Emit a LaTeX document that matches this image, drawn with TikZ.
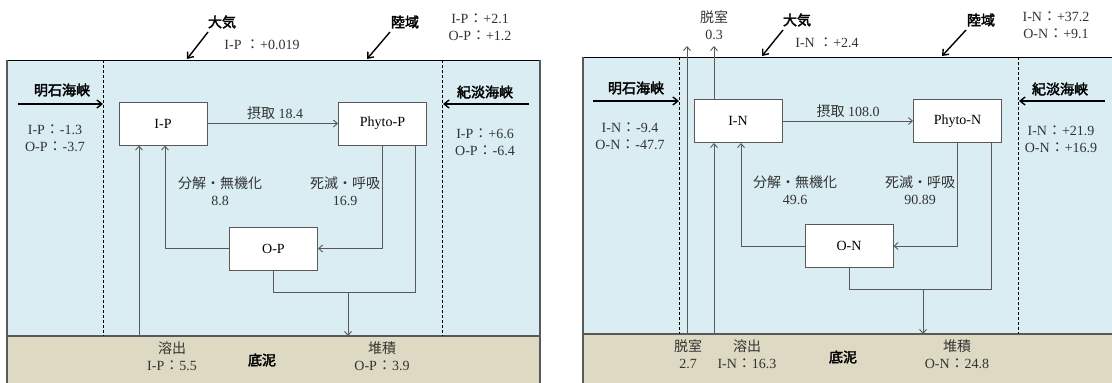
\documentclass[tikz,border=0pt]{standalone}
\usepackage{fontspec}
\setmainfont{Liberation Serif}
\newfontfamily\cjk{Noto Sans CJK JP}
\newfontfamily\cjkb{Noto Sans CJK JP}[FakeBold=2.5]
\usetikzlibrary{arrows.meta}
\definecolor{sea}{HTML}{DAEDF3}
\definecolor{mud}{HTML}{DDD9C3}
\definecolor{ln}{HTML}{595959}
\definecolor{tx}{HTML}{333333}
\newcommand\cl{\makebox[15pt]{\cjk ：}}
\begin{document}
\begin{tikzpicture}[x=1pt,y=-1pt,
  lat/.style={text=tx, font=\fontsize{14}{17}\selectfont, align=center, inner sep=0pt},
  jpb/.style={text=black, font=\cjkb\fontsize{14}{16}\selectfont, inner sep=0pt},
  box/.style={draw=ln, line width=1pt, fill=white, inner sep=0pt, minimum width=88pt, minimum height=43pt, font=\fontsize{14}{16}\selectfont},
  flow/.style={draw=ln, line width=0.9pt, -{Straight Barb[length=4pt,width=7pt]}},
  link/.style={draw=ln, line width=0.9pt},
  big/.style={draw=black, line width=1.4pt, -{Straight Barb[length=5pt,width=8pt]}},
  border/.style={draw=ln, line width=1.2pt},
  sep/.style={draw=black, line width=0.8pt, dash pattern=on 3pt off 2pt},
]
\useasboundingbox (0,0) rectangle (1112,383);

% ---------- left panel background ----------
\fill[sea] (7,60) rectangle (540,336);
\fill[mud] (7,336) rectangle (540,383);
\draw[black, line width=1pt] (7,60) -- (540,60);
\draw[border] (7,60) -- (7,383);
\draw[border] (540,60) -- (540,383);
\draw[border] (7,336) -- (540,336);
\draw[sep] (103,60) -- (103,336);
\draw[sep] (442,60) -- (442,336);

% ---------- right panel background ----------
\fill[sea] (583,57) rectangle (1112,334);
\fill[mud] (583,334) rectangle (1112,383);
\draw[black, line width=1pt] (583,57) -- (1112,57);
\draw[border] (583,57) -- (583,383);
\draw[border] (583,334) -- (1112,334);
\draw[sep] (679,57) -- (679,334);
\draw[sep] (1018,57) -- (1018,334);

% ---------- left boxes ----------
\node[box] (IP) at (163,123.5) {I-P};
\node[box] (PhP) at (382.5,123.5) {Phyto-P};
\node[box] (OP) at (273.5,248.5) {O-P};

\coordinate (s1) at (139,336);
\coordinate (c1) at (165,0);
\coordinate (p2) at (415,0);
\coordinate (m1) at (348,292);
\coordinate (sd1) at (348,336);

\draw[flow] (IP.east) -- (PhP.west);
\draw[flow] (s1) -- (s1 |- IP.south);
\draw[flow] (OP.west) -| (c1 |- IP.south);
\draw[flow] (PhP.south) |- (OP.east);
\draw[link] (OP.south) -- (OP.south |- m1) -- (p2 |- m1) -- (p2 |- PhP.south);
\draw[flow] (m1) -- (sd1);

% big arrows left
\coordinate (la1) at (18,104); \coordinate (la2) at (103,104);
\coordinate (lb1) at (529,104); \coordinate (lb2) at (443,104);
\coordinate (lc1) at (208,32); \coordinate (lc2) at (187,59);
\coordinate (ld1) at (390,32); \coordinate (ld2) at (367,59);
\draw[big] (la1) -- (la2);
\draw[big] (lb1) -- (lb2);
\draw[big] (lc1) -- (lc2);
\draw[big] (ld1) -- (ld2);

% left texts
\node[jpb] (t1) at (222,22) {大気};
\node[lat] (t2) at (262,45) {I-P \cl+0.019};
\node[jpb] (t3) at (405,22) {陸域};
\node[lat] (t4) at (480,27) {I-P\cl+2.1\\O-P\cl+1.2};
\node[jpb] (t5) at (62,90) {明石海峡};
\node[lat] (t6) at (55,138) {I-P\cl-1.3\\O-P\cl-3.7};
\node[jpb] (t7) at (485,92) {紀淡海峡};
\node[lat] (t8) at (485,142) {I-P\cl+6.6\\O-P\cl-6.4};
\node[lat] (t9) at (275,113) {{\cjk 摂取} 18.4};
\node[lat] (t10) at (220,191) {{\cjk 分解・無機化}\\8.8};
\node[lat] (t11) at (345,191) {{\cjk 死滅・呼吸}\\16.9};
\node[lat] (t12) at (172,356) {{\cjk 溶出}\\I-P\cl5.5};
\node[jpb] (t13) at (262,360) {底泥};
\node[lat] (t14) at (382,356) {{\cjk 堆積}\\O-P\cl3.9};

% ---------- right boxes ----------
\node[box] (IN) at (738,121) {I-N};
\node[box] (PhN) at (957.5,121) {Phyto-N};
\node[box] (ON) at (849,246) {O-N};

\coordinate (s2) at (714,334);
\coordinate (d1) at (714,46);
\coordinate (d2) at (687,334);
\coordinate (d3) at (687,46);
\coordinate (c2) at (741,0);
\coordinate (p4) at (991,0);
\coordinate (m2) at (923,289);
\coordinate (sd2) at (923,334);

\draw[flow] (IN.east) -- (PhN.west);
\draw[flow] (s2) -- (s2 |- IN.south);
\draw[flow] (d1 |- IN.north) -- (d1);
\draw[flow] (d2) -- (d3);
\draw[flow] (ON.west) -| (c2 |- IN.south);
\draw[flow] (PhN.south) |- (ON.east);
\draw[link] (ON.south) -- (ON.south |- m2) -- (p4 |- m2) -- (p4 |- PhN.south);
\draw[flow] (m2) -- (sd2);

% big arrows right
\coordinate (ra1) at (593,101); \coordinate (ra2) at (679,101);
\coordinate (rb1) at (1105,101); \coordinate (rb2) at (1019,101);
\coordinate (rc1) at (783,30); \coordinate (rc2) at (762,56);
\coordinate (rd1) at (966,30); \coordinate (rd2) at (942,56);
\draw[big] (ra1) -- (ra2);
\draw[big] (rb1) -- (rb2);
\draw[big] (rc1) -- (rc2);
\draw[big] (rd1) -- (rd2);

% right texts
\node[lat] (u0) at (714,25) {{\cjk 脱室}\\0.3};
\node[jpb] (u1) at (797,20) {大気};
\node[lat] (u2) at (827,43) {I-N \cl+2.4};
\node[jpb] (u3) at (981,20) {陸域};
\node[lat] (u4) at (1056,25) {I-N\cl+37.2\\O-N\cl+9.1};
\node[jpb] (u5) at (636,88) {明石海峡};
\node[lat] (u6) at (630,136) {I-N\cl-9.4\\O-N\cl-47.7};
\node[jpb] (u7) at (1060,89) {紀淡海峡};
\node[lat] (u8) at (1061,139) {I-N\cl+21.9\\O-N\cl+16.9};
\node[lat] (u9) at (848,111) {{\cjk 摂取} 108.0};
\node[lat] (u10) at (795,190) {{\cjk 分解・無機化}\\49.6};
\node[lat] (u11) at (920,190) {{\cjk 死滅・呼吸}\\90.89};
\node[lat] (u12) at (688,354) {{\cjk 脱室}\\2.7};
\node[lat] (u13) at (747,354) {{\cjk 溶出}\\I-N\cl16.3};
\node[jpb] (u14) at (843,357) {底泥};
\node[lat] (u15) at (957,354) {{\cjk 堆積}\\O-N\cl24.8};
\end{tikzpicture}
\end{document}
